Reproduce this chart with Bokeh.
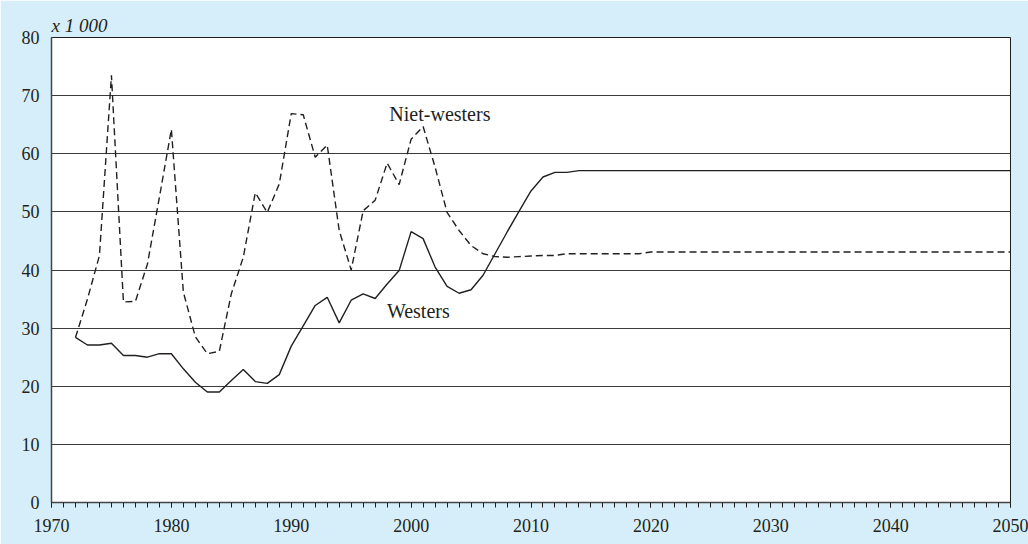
from bokeh.plotting import figure
from bokeh.models import Range1d, SingleIntervalTicker, Label
from bokeh.embed import file_html
from bokeh.resources import INLINE

years = [1972, 1973, 1974, 1975, 1976, 1977, 1978, 1979, 1980, 1981,
         1982, 1983, 1984, 1985, 1986, 1987, 1988, 1989, 1990, 1991,
         1992, 1993, 1994, 1995, 1996, 1997, 1998, 1999, 2000, 2001,
         2002, 2003, 2004, 2005, 2006, 2007, 2008, 2009, 2010, 2011,
         2012, 2013, 2014, 2015, 2016, 2017, 2018, 2019, 2020, 2021,
         2022, 2023, 2024, 2025, 2026, 2027, 2028, 2029, 2030, 2031,
         2032, 2033, 2034, 2035, 2036, 2037, 2038, 2039, 2040, 2041,
         2042, 2043, 2044, 2045, 2046, 2047, 2048, 2049, 2050]

westers = [28.4, 27.1, 27.1, 27.4, 25.3, 25.3, 25.0, 25.6, 25.6, 23.0,
           20.7, 19.0, 19.0, 21.0, 22.9, 20.8, 20.5, 22.0, 26.9, 30.4,
           33.9, 35.3, 30.9, 34.8, 35.9, 35.1, 37.6, 39.9, 46.6, 45.4,
           40.5, 37.2, 36.0, 36.6, 39.1, 42.8, 46.5, 50.1, 53.6, 56.0,
           56.8, 56.8, 57.1, 57.1, 57.1, 57.1, 57.1, 57.1, 57.1, 57.1,
           57.1, 57.1, 57.1, 57.1, 57.1, 57.1, 57.1, 57.1, 57.1, 57.1,
           57.1, 57.1, 57.1, 57.1, 57.1, 57.1, 57.1, 57.1, 57.1, 57.1,
           57.1, 57.1, 57.1, 57.1, 57.1, 57.1, 57.1, 57.1, 57.1]

niet_westers = [28.4, 35.0, 42.5, 73.5, 34.5, 34.6, 41.0, 52.5, 64.2, 36.2,
                28.5, 25.6, 26.0, 35.9, 42.2, 53.3, 49.9, 54.8, 66.9, 66.7,
                59.4, 61.5, 46.8, 40.0, 50.2, 52.0, 58.4, 54.7, 62.5, 64.7,
                57.7, 49.9, 46.8, 44.2, 42.8, 42.3, 42.2, 42.3, 42.4, 42.5,
                42.5, 42.8, 42.8, 42.8, 42.8, 42.8, 42.8, 42.8, 43.1, 43.1,
                43.1, 43.1, 43.1, 43.1, 43.1, 43.1, 43.1, 43.1, 43.1, 43.1,
                43.1, 43.1, 43.1, 43.1, 43.1, 43.1, 43.1, 43.1, 43.1, 43.1,
                43.1, 43.1, 43.1, 43.1, 43.1, 43.1, 43.1, 43.1, 43.1]

unit_label = "x 1 000"
label_westers = "Westers"
label_niet = "Niet-westers"

FONT = "Liberation Serif"
INK = "#231f20"
BG = "#d5eef9"

p = figure(width=1028, height=544, output_backend="svg", toolbar_location=None,
           x_range=Range1d(1970, 2050), y_range=Range1d(0, 80),
           min_border_left=51, min_border_right=18, min_border_top=37,
           min_border_bottom=42)

p.border_fill_color = BG
p.background_fill_color = "white"
p.outline_line_color = INK
p.outline_line_width = 1

p.title.text = unit_label
p.title.align = "left"
p.title.text_font = FONT
p.title.text_font_style = "italic"
p.title.text_font_size = "19px"
p.title.text_font_style = "italic"
p.title.text_color = INK
p.title.standoff = 3
p.title.offset = 0

# axes
p.xaxis.ticker = SingleIntervalTicker(interval=10, num_minor_ticks=10)
p.yaxis.ticker = SingleIntervalTicker(interval=10, num_minor_ticks=0)
for ax in (p.xaxis[0], p.yaxis[0]):
    ax.axis_line_color = "#444444"
    ax.axis_line_width = 1.5
    ax.major_label_text_font = FONT
    ax.major_label_text_font_size = "18px"
    ax.major_label_text_color = INK
    ax.major_tick_in = 0
    ax.minor_tick_in = 0
p.xaxis.major_tick_out = 5
p.xaxis.minor_tick_out = 5
p.xaxis.major_tick_line_color = INK
p.xaxis.minor_tick_line_color = INK
p.xaxis.major_label_standoff = 11
p.yaxis.major_tick_out = 0
p.yaxis.minor_tick_out = 0
p.yaxis.major_tick_line_color = None
p.yaxis.minor_tick_line_color = None
p.yaxis.major_label_standoff = 12

p.xgrid.grid_line_color = None
p.ygrid.grid_line_color = "#3a3a3a"
p.ygrid.grid_line_width = 1

p.line(years, westers, line_color=INK, line_width=1.4)
p.line(years, niet_westers, line_color=INK, line_width=1.4, line_dash="7 4")

p.add_layout(Label(x=2002.4, y=66.9, text=label_niet, text_font=FONT,
                   text_font_size="20px", text_color=INK,
                   text_align="center", text_baseline="middle"))
p.add_layout(Label(x=2000.6, y=32.9, text=label_westers, text_font=FONT,
                   text_font_size="20px", text_color=INK,
                   text_align="center", text_baseline="middle"))

open("out.html", "w").write(file_html(p, INLINE))
